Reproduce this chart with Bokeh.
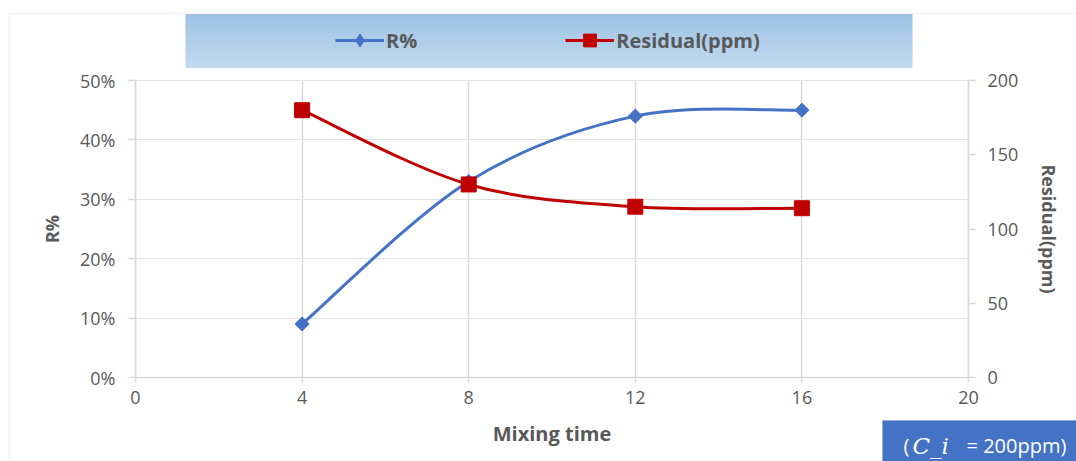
import numpy as np
from bokeh.plotting import figure
from bokeh.models import (Range1d, LinearAxis, FixedTicker, NumeralTickFormatter,
                          Legend, LegendItem, BoxAnnotation, Label)
from bokeh.embed import file_html
from bokeh.resources import INLINE

# ---- data ----
mixing_time = [4, 8, 12, 16]
r_pct = [9, 33, 44, 45]              # R %
residual_ppm = [180, 130, 115, 114]  # Residual (ppm)
x_ticks = [0, 4, 8, 12, 16, 20]
r_ticks = [0, 0.1, 0.2, 0.3, 0.4, 0.5]
res_ticks = [0, 50, 100, 150, 200]

BLUE = "#4472c4"
RED = "#c00000"
GRID = "#d9d9d9"
TXT = "#595959"
FONT = "Open Sans"

W, H = 1076, 461
# plot-area placement in the canvas (pixels)
PL, PR, PT, PB = 135, 968, 80, 377
sx = (PR - PL) / 20.0          # px per x unit
sy = (PB - PT) / 0.5           # px per R fraction
sy2 = (PB - PT) / 200.0        # px per ppm

x_rng = Range1d(-PL / sx, (W - PL) / sx)
y_rng = Range1d(-(H - PB) / sy, PB / sy)
y2_rng = Range1d(-(H - PB) / sy2, PB / sy2)

p = figure(width=W, height=H, output_backend="svg", toolbar_location=None,
           x_range=x_rng, y_range=y_rng,
           min_border=0, min_border_left=0, min_border_right=0,
           min_border_top=0, min_border_bottom=0)
p.outline_line_color = None
p.extra_y_ranges = {"res": y2_rng}

# axes (fixed inside the canvas-wide frame)
p.xaxis.ticker = FixedTicker(ticks=x_ticks)
p.xaxis.fixed_location = 0
p.xaxis.bounds = (0, 20)
p.yaxis.ticker = FixedTicker(ticks=r_ticks)
p.yaxis.formatter = NumeralTickFormatter(format="0%")
p.yaxis.fixed_location = 0
p.yaxis.bounds = (0, 0.5)
raxis = LinearAxis(y_range_name="res", ticker=FixedTicker(ticks=res_ticks),
                   fixed_location=20, bounds=(0, 200))
p.add_layout(raxis, "right")

for ax in (p.xaxis[0], p.yaxis[0], raxis):
    ax.axis_line_color = GRID
    ax.axis_line_width = 1.5
    ax.major_tick_line_color = GRID
    ax.major_tick_line_width = 1.5
    ax.major_tick_in = 0
    ax.minor_tick_line_color = None
    ax.major_label_text_font = FONT
    ax.major_label_text_font_size = "18px"
    ax.major_label_text_color = TXT
    ax.axis_label_text_font = FONT
    ax.axis_label_text_font_style = "bold"
    ax.axis_label_text_color = TXT
    ax.axis_label_text_font_size = "18px"

p.xaxis.major_tick_out = 5
p.xaxis.major_label_standoff = 8
p.xaxis.axis_label = "Mixing time"
p.xaxis.axis_label_standoff = 13
p.xaxis.axis_label_text_font_size = "20px"
p.yaxis.major_tick_out = 7
p.yaxis.major_label_standoff = 13
p.yaxis.axis_label = "R%"
p.yaxis.axis_label_standoff = 13
raxis.major_tick_out = 7
raxis.major_label_standoff = 12
raxis.axis_label = "Residual(ppm)"
raxis.axis_label_standoff = 16

p.xgrid.ticker = FixedTicker(ticks=x_ticks)
p.xgrid.grid_line_color = GRID
p.xgrid.grid_line_width = 1.5
p.ygrid.ticker = FixedTicker(ticks=r_ticks)
p.ygrid.grid_line_color = "#e2e2e2"
p.ygrid.grid_line_width = 1


def sbox(l, r, t, b, **kw):
    """Box in canvas pixels (top-left origin)."""
    return BoxAnnotation(left=l, right=r, top=H - t, bottom=H - b,
                         left_units="screen", right_units="screen",
                         top_units="screen", bottom_units="screen", **kw)

# white masks limiting grid lines to the plot area
for (l, r, t, b) in [(-10, PL - 0.8, -10, H + 10), (PR + 0.8, W + 10, -10, H + 10),
                     (-10, W + 10, -10, PT - 0.6), (-10, W + 10, PB + 0.8, H + 10)]:
    p.add_layout(sbox(l, r, t, b, fill_color="white", fill_alpha=1, line_color=None,
                      level="underlay"))

# outer chart border
p.add_layout(sbox(9, W + 20, 13, H + 20, fill_color=None, line_color="#dedede",
                  line_width=2, level="underlay"))


def smooth_segments(xs, ys, t=1/6):
    """Excel-like smoothed line: cubic Bezier segments through the data points."""
    xs = np.asarray(xs, float); ys = np.asarray(ys, float)
    n = len(xs)
    seg = dict(x0=[], y0=[], x1=[], y1=[], cx0=[], cy0=[], cx1=[], cy1=[])
    for i in range(n - 1):
        i0 = max(i - 1, 0); i3 = min(i + 2, n - 1)
        seg["x0"].append(xs[i]); seg["y0"].append(ys[i])
        seg["x1"].append(xs[i + 1]); seg["y1"].append(ys[i + 1])
        seg["cx0"].append(xs[i] + (xs[i + 1] - xs[i0]) * t)
        seg["cy0"].append(ys[i] + (ys[i + 1] - ys[i0]) * t)
        seg["cx1"].append(xs[i + 1] - (xs[i3] - xs[i]) * t)
        seg["cy1"].append(ys[i + 1] - (ys[i3] - ys[i]) * t)
    return seg

r_frac = [v / 100 for v in r_pct]
p.bezier(**smooth_segments(mixing_time, r_frac), line_color=BLUE, line_width=3)
p.bezier(**smooth_segments(mixing_time, residual_ppm), line_color=RED, line_width=3,
         y_range_name="res")
p.scatter(mixing_time, r_frac, marker="square", angle=np.pi / 4, size=10,
          fill_color=BLUE, line_color=BLUE)
p.scatter(mixing_time, residual_ppm, marker="square", size=15,
          fill_color=RED, line_color=RED, y_range_name="res")

# legend proxies (hidden; only their legend glyphs are shown)
l_r = p.line(mixing_time, r_frac, line_color=BLUE, line_width=3, visible=False)
l_res = p.line(mixing_time, residual_ppm, line_color=RED, line_width=3,
               y_range_name="res", visible=False)
m_r = p.scatter(mixing_time, r_frac, marker="diamond", size=10,
                fill_color=BLUE, line_color=BLUE, visible=False)
m_res = p.scatter(mixing_time, residual_ppm, marker="square", size=13, fill_color=RED,
                  line_color=RED, y_range_name="res", visible=False)

# legend background (vertical gradient)
top_px, bot_px, lft_px, rgt_px = 14, 67, 185, 912
c_top = np.array([0x9c, 0xc2, 0xe5]); c_bot = np.array([0xc3, 0xda, 0xf0])
nst = 14
for k in range(nst):
    a = top_px + (bot_px - top_px) * k / nst
    b = top_px + (bot_px - top_px) * (k + 1) / nst
    c = (c_top + (c_bot - c_top) * (k + 0.5) / nst).astype(int)
    p.add_layout(sbox(lft_px, rgt_px, a - 0.5, b + 0.5,
                      fill_color="#%02x%02x%02x" % tuple(c), fill_alpha=1, line_color=None))

legend = Legend(items=[LegendItem(label="R%", renderers=[l_r, m_r]),
                       LegendItem(label="Residual(ppm)", renderers=[l_res, m_res])],
                orientation="horizontal", location=(335, H - 56),
                glyph_width=49, glyph_height=32, label_standoff=2, spacing=148,
                padding=0, margin=0, border_line_color=None, background_fill_alpha=0,
                inactive_fill_alpha=0, click_policy="none",
                label_text_font=FONT, label_text_font_style="bold",
                label_text_font_size="20px", label_text_color=TXT)
p.add_layout(legend)

# bottom-right note box
p.add_layout(sbox(882, W + 20, 420, H + 20, fill_color=BLUE, fill_alpha=1,
                  line_color="#7296d8", line_width=1))
ty = H - 445
p.add_layout(Label(x=903, y=ty, x_units="screen", y_units="screen", text="(",
                   text_color="white", text_font=FONT, text_font_size="20px",
                   text_baseline="middle", text_align="left"))
p.add_layout(Label(x=912, y=ty, x_units="screen", y_units="screen", text="C_i",
                   text_color="white", text_font="DejaVu Serif", text_font_style="italic",
                   text_font_size="23px", text_baseline="middle", text_align="left"))
p.add_layout(Label(x=966, y=ty, x_units="screen", y_units="screen", text="= 200ppm)",
                   text_color="white", text_font=FONT, text_font_size="20px",
                   text_baseline="middle", text_align="left"))

open("out.html", "w").write(file_html(p, INLINE))
